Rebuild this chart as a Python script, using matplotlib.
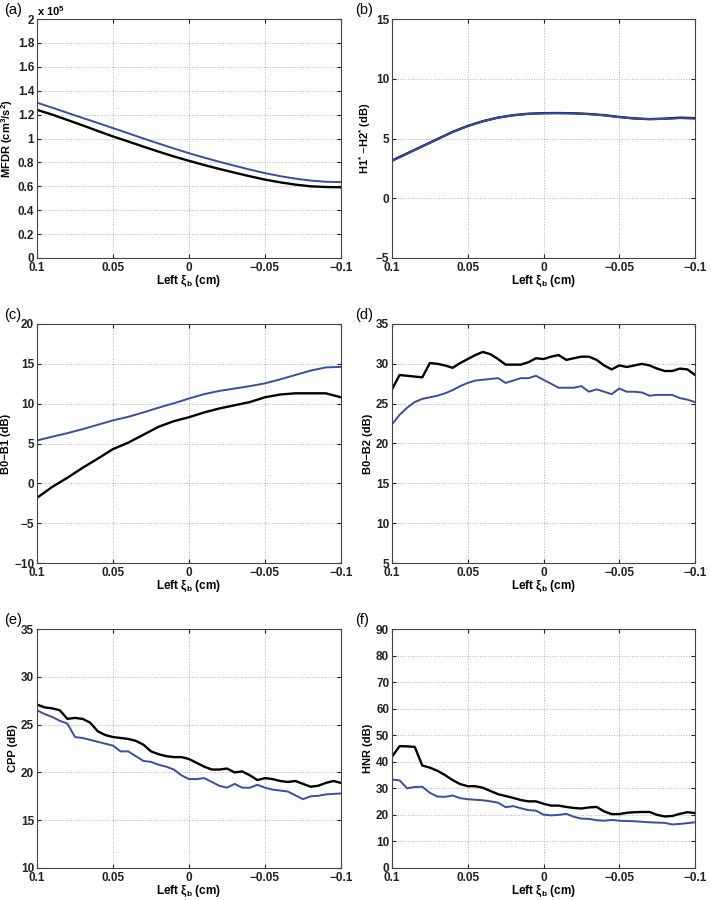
#Voice measures vs left vocal fold xi_b
#six panels, black and blue curves

import numpy as np
import matplotlib
matplotlib.use('Agg')
import matplotlib.pyplot as plt
from matplotlib.ticker import FuncFormatter, MultipleLocator

plt.rcParams['font.family'] = ['Liberation Sans', 'DejaVu Sans']
plt.rcParams['mathtext.fontset'] = 'custom'
plt.rcParams['mathtext.rm'] = 'Liberation Sans'
plt.rcParams['mathtext.bf'] = 'Liberation Sans:bold'
plt.rcParams['mathtext.it'] = 'Liberation Sans:italic'

#data -------------------------------------------
#smooth panels (a)-(c): x from 0.1 to -0.1, step 0.01
xSmooth = np.round(np.linspace(0.1, -0.1, 21), 3)
#noisy panels (d)-(f): step 0.005
xRough = np.round(np.linspace(0.1, -0.1, 41), 4)

mfdrBlack = [1.24, 1.20, 1.155, 1.11, 1.063, 1.017, 0.975, 0.932, 0.89, 0.85, 0.813,
             0.778, 0.745, 0.714, 0.684, 0.656, 0.633, 0.614, 0.600, 0.594, 0.592]
mfdrBlue = [1.30, 1.258, 1.215, 1.172, 1.13, 1.087, 1.044, 1.0, 0.958, 0.917, 0.877,
            0.84, 0.805, 0.772, 0.74, 0.71, 0.685, 0.664, 0.648, 0.638, 0.635]

h1h2Black = [3.15, 3.75, 4.35, 4.95, 5.55, 6.05, 6.45, 6.75, 6.95, 7.07, 7.12,
             7.13, 7.11, 7.05, 6.95, 6.8, 6.68, 6.62, 6.66, 6.74, 6.7]
h1h2Blue = [3.12, 3.72, 4.33, 4.93, 5.53, 6.03, 6.43, 6.74, 6.94, 7.06, 7.11,
            7.12, 7.10, 7.04, 6.94, 6.79, 6.67, 6.62, 6.64, 6.7, 6.67]

b0b1Black = [-1.82, -0.45, 0.7, 1.95, 3.1, 4.3, 5.1, 6.1, 7.1, 7.8, 8.3,
             8.9, 9.4, 9.8, 10.2, 10.8, 11.15, 11.3, 11.3, 11.3, 10.8]
b0b1Blue = [5.38, 5.85, 6.3, 6.8, 7.35, 7.9, 8.35, 8.9, 9.5, 10.05, 10.65,
            11.2, 11.6, 11.9, 12.2, 12.55, 13.05, 13.6, 14.15, 14.55, 14.62]

b0b2Black = [26.8, 28.6, 28.5, 28.4, 28.3, 30.1, 30.0, 29.8, 29.5, 30.1, 30.6,
             31.1, 31.5, 31.2, 30.6, 29.9, 29.9, 29.9, 30.2, 30.7, 30.6,
             30.9, 31.1, 30.5, 30.7, 30.9, 30.9, 30.5, 29.8, 29.3, 29.8,
             29.6, 29.8, 30.0, 29.8, 29.4, 29.1, 29.1, 29.4, 29.3, 28.6]
b0b2Blue = [22.4, 23.6, 24.5, 25.2, 25.6, 25.8, 26.0, 26.3, 26.7, 27.2, 27.6,
            27.9, 28.0, 28.1, 28.2, 27.6, 27.9, 28.2, 28.2, 28.5, 28.0,
            27.5, 27.0, 27.0, 27.0, 27.2, 26.5, 26.8, 26.5, 26.2, 26.9,
            26.5, 26.5, 26.4, 26.0, 26.1, 26.1, 26.1, 25.7, 25.5, 25.2]

cppBlack = [27.1, 26.8, 26.7, 26.5, 25.6, 25.7, 25.6, 25.2, 24.3, 23.9, 23.7,
            23.6, 23.5, 23.3, 22.9, 22.2, 21.9, 21.7, 21.6, 21.6, 21.4,
            21.0, 20.6, 20.3, 20.3, 20.4, 20.0, 20.1, 19.7, 19.2, 19.4,
            19.3, 19.1, 19.0, 19.1, 18.8, 18.5, 18.6, 18.9, 19.1, 18.9]
cppBlue = [26.5, 26.1, 25.8, 25.4, 25.1, 23.7, 23.6, 23.4, 23.2, 23.0, 22.8,
           22.2, 22.2, 21.7, 21.2, 21.1, 20.8, 20.6, 20.3, 19.7, 19.3,
           19.3, 19.4, 19.0, 18.6, 18.4, 18.8, 18.4, 18.4, 18.7, 18.4,
           18.2, 18.1, 18.0, 17.6, 17.2, 17.5, 17.55, 17.7, 17.75, 17.8]

hnrBlack = [41.9, 45.9, 45.8, 45.6, 38.6, 37.8, 36.6, 35.0, 33.1, 31.6, 30.8,
            30.8, 30.2, 29.0, 27.8, 27.1, 26.4, 25.6, 25.1, 25.1, 24.2,
            23.5, 23.5, 23.0, 22.6, 22.4, 22.8, 23.0, 21.3, 20.3, 20.3,
            20.8, 21.0, 21.1, 21.1, 20.0, 19.4, 19.6, 20.4, 21.0, 20.7]
hnrBlue = [33.3, 33.0, 30.0, 30.5, 30.6, 28.3, 26.9, 26.8, 27.3, 26.3, 25.9,
           25.7, 25.5, 25.1, 24.6, 22.9, 23.3, 22.5, 21.8, 21.6, 20.1,
           19.8, 20.0, 20.4, 19.3, 18.6, 18.5, 18.0, 17.8, 18.1, 17.8,
           17.7, 17.6, 17.4, 17.2, 17.1, 17.0, 16.4, 16.6, 16.9, 17.2]

panelTags = ['(a)', '(b)', '(c)', '(d)', '(e)', '(f)']
yLabels = [r'MFDR (cm$^{\mathbf{3}}$/s$^{\mathbf{2}}$)', r'H1$^{\mathbf{*}}$ $-$H2$^{\mathbf{*}}$ (dB)',
           'B0\u2212B1 (dB)', 'B0\u2212B2 (dB)', 'CPP (dB)', 'HNR (dB)']
yLims = [(0, 2), (-5, 15), (-10, 20), (5, 35), (10, 35), (0, 90)]
yStep = [0.2, 5, 5, 5, 5, 10]

blueCol = '#3b4d9e'

def fmtNum(v, pos):
    s = '%g' % round(v, 6)
    if s == '-0':
        s = '0'
    return s.replace('-', '\u2212')

def fmtMfdr(v, pos):
    return fmtNum(v / 1e5, pos)

#figure -------------------------------------------
fig = plt.figure(figsize=(7.11, 9.0), dpi=100)

colX = [37/711., 392/711.]
colW = [304/711., 303/711.]
rowY = [1 - 258/900., 1 - 563/900., 1 - 868/900.]
rowH = 239/900.

series = [
    (xSmooth, np.array(mfdrBlack)*1e5, np.array(mfdrBlue)*1e5),
    (xSmooth, h1h2Black, h1h2Blue),
    (xSmooth, b0b1Black, b0b1Blue),
    (xRough, b0b2Black, b0b2Blue),
    (xRough, cppBlack, cppBlue),
    (xRough, hnrBlack, hnrBlue),
]

for k in range(6):
    r = k // 2
    c = k % 2
    ax = fig.add_axes([colX[c], rowY[r], colW[c], rowH])
    xs, yb, yl = series[k]
    ax.plot(xs, yb, color='k', linewidth=1.7)
    ax.plot(xs, yl, color=blueCol, linewidth=1.4)

    ax.set_xlim(0.1, -0.1)
    ax.xaxis.set_major_locator(MultipleLocator(0.05))
    ax.xaxis.set_major_formatter(FuncFormatter(fmtNum))
    lo, hi = yLims[k]
    if k == 0:
        ax.set_ylim(lo*1e5, hi*1e5)
        ax.yaxis.set_major_locator(MultipleLocator(yStep[k]*1e5))
        ax.yaxis.set_major_formatter(FuncFormatter(fmtMfdr))
        ax.text(0.0, 1.005, r'x 10$^{\mathbf{5}}$', transform=ax.transAxes,
                fontsize=8, fontweight='bold', ha='left', va='bottom')
    else:
        ax.set_ylim(lo, hi)
        ax.yaxis.set_major_locator(MultipleLocator(yStep[k]))
        ax.yaxis.set_major_formatter(FuncFormatter(fmtNum))

    ax.grid(True, linestyle=':', color='#b0b0b0', linewidth=0.7)
    ax.tick_params(direction='in', top=True, right=True, length=3,
                   labelsize=8.5, colors='#222222')
    ax.tick_params(axis='x', pad=3)
    ax.tick_params(axis='y', pad=2)
    for lab in ax.get_xticklabels() + ax.get_yticklabels():
        lab.set_fontweight('bold')
    for sp in ax.spines.values():
        sp.set_color('#444444')
        sp.set_linewidth(0.8)

    ax.set_ylabel(yLabels[k], fontsize=8, fontweight='bold', labelpad=2)
    ax.set_xlabel('Left \u03be$_{\\mathbf{b}}$ (cm)', fontsize=8.5,
                  fontweight='bold', labelpad=0)
    fig.text(colX[c] - (33/711. if c == 0 else 37/711.), rowY[r] + rowH + 2/900.,
             panelTags[k], fontsize=10.5, ha='left', va='bottom')

fig.savefig('out.png', dpi=100)
